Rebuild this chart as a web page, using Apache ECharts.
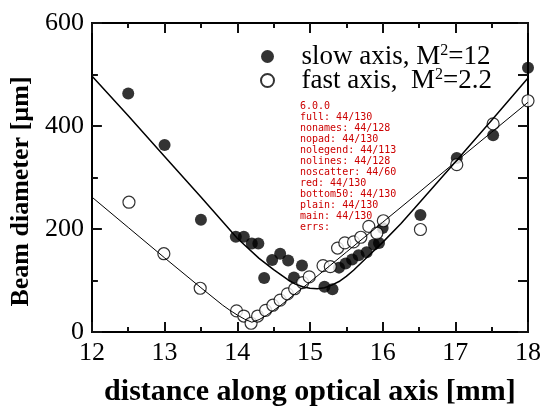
<!DOCTYPE html>
<html>
<head>
<meta charset="utf-8">
<script src="https://cdn.jsdelivr.net/npm/echarts@6/dist/echarts.min.js"></script>
<style>
  html, body { margin: 0; padding: 0; background: #fff; }
  #chart { width: 544px; height: 412px; }
  .off { width: 544px; height: 412px; position: absolute; left: 0; top: 1000px; }
  #dbg { position: absolute; left: 300px; top: 100px; font: 10px monospace; white-space: pre; color: #c00; }
</style>
</head>
<body>
<div id="chart"></div>
<div id="dbg"></div>
<script>
var errs = []
window.onerror = function (m) { errs.push(String(m)) }

var slowX = [12.5, 13.0, 13.5, 13.98, 14.09, 14.2, 14.29, 14.37, 14.48, 14.59, 14.7, 14.78, 14.89, 15.2, 15.31, 15.4, 15.49, 15.58, 15.67, 15.78, 15.88, 15.95, 16.0, 16.52, 17.02, 17.52, 18.0]
var slowY = [463, 363, 218, 185, 185, 172, 172, 105, 140, 152, 139, 106, 129, 88, 83, 125, 133, 141, 149, 155, 170, 173, 202, 227, 338, 382, 513]
var fastX = [12.51, 12.99, 13.49, 13.99, 14.09, 14.19, 14.28, 14.39, 14.49, 14.59, 14.69, 14.79, 14.9, 14.99, 15.18, 15.28, 15.38, 15.48, 15.6, 15.7, 15.81, 15.92, 16.01, 16.52, 17.02, 17.52, 18.0]
var fastY = [252, 152, 85, 41, 31, 17, 31, 42, 52, 62, 74, 84, 96, 107, 129, 127, 163, 173, 175, 184, 205, 192, 216, 199, 325, 404, 449]
var slowFitX = [12, 12.5, 13, 13.5, 14, 14.3, 14.5, 14.7, 14.8, 14.9, 15.0, 15.1, 15.2, 15.3, 15.4, 15.5, 15.6, 15.8, 16, 16.25, 16.5, 17, 17.5, 18]
var slowFitY = [497, 420, 341, 262, 182, 143, 121, 101, 93, 88, 85, 84, 86, 91, 98, 108, 120, 147, 174, 210, 250, 330, 411, 493]
var fastFitX = [12, 12.5, 13, 13.5, 13.8, 13.9, 14, 14.1, 14.2, 14.3, 14.4, 14.5, 14.6, 15, 15.5, 16, 16.5, 17, 17.5, 18]
var fastFitY = [262, 203, 144, 86, 52, 42, 33, 25, 19, 24, 32, 42, 52, 97, 155, 213, 271, 330, 388, 446]
var xTicks = [12, 13, 14, 15, 16, 17, 18]
var yTicks = [0, 200, 400, 600]

function pairs(xs, ys) {
    var out = []
    for (var i = 0; i < xs.length; i++) out.push([xs[i], ys[i]])
    return out
}
var serif = '"Liberation Serif", "Times New Roman", serif'

function frameAxis(position, ticks, step, minorLen, labels, v) {
    return {
        type: 'value', position: position, min: ticks[0], max: ticks[ticks.length - 1], interval: step,
        axisLine: {show: true, onZero: false, lineStyle: {color: '#000', width: 2}},
        axisTick: {show: true, inside: true, length: 10, lineStyle: {color: v.red ? '#f00' : '#111', width: 2}},
        minorTick: {show: true, splitNumber: 2, length: minorLen, lineStyle: {color: v.red ? '#00f' : '#111', width: 2}},
        axisLabel: labels ? (v.plain ? {show: true} : {show: true, fontFamily: serif, fontSize: 26, color: '#000', margin: 8}) : {show: false},
        splitLine: {show: false}, minorSplitLine: {show: false}
    }
}

function build(v) {
    var xBottom = frameAxis('bottom', xTicks, 1, 5, true, v)
    var yLeft = frameAxis('left', yTicks, 200, 6, true, v)
    if (!v.nonames) {
        xBottom.name = 'distance along optical axis [mm]'
        xBottom.nameLocation = 'middle'
        xBottom.nameGap = 45
        xBottom.nameTextStyle = {fontFamily: serif, fontWeight: 'bold', fontSize: 30, color: '#000'}
        yLeft.name = 'Beam diameter [\u00b5m]'
        yLeft.nameLocation = 'middle'
        yLeft.nameGap = 53
        yLeft.nameTextStyle = {fontFamily: serif, fontWeight: 'bold', fontSize: 26, color: '#000'}
        if (!v.nopad) yLeft.nameTextStyle.padding = [0, 28, 0, 0]
    }
    var o = {
        animation: false, backgroundColor: '#fff',
        grid: {left: 90, right: 16, top: 23, bottom: v.bottom || 77},
        xAxis: [xBottom, frameAxis('top', xTicks, 1, 5, false, v)],
        yAxis: [yLeft, frameAxis('right', yTicks, 200, 10, false, v)],
        series: []
    }
    if (!v.nolegend) {
        o.legend = {
            data: ['slow', 'fast'], orient: 'vertical', left: 255, top: 38, itemWidth: 58, itemHeight: 13, itemGap: -3, selectedMode: false,
            formatter: function (name) { return name === 'slow' ? '{t|slow axis, M}{s|2}{t|=12}' : '{t|fast axis,  M}{s|2}{t|=2.2}' },
            textStyle: {color: '#000', fontFamily: serif, fontSize: 27, rich: {
                t: {fontFamily: serif, fontSize: 27, color: '#000', lineHeight: 27},
                s: {fontFamily: serif, fontSize: 16, color: '#000', verticalAlign: 'top', lineHeight: 14}}}
        }
    }
    if (!v.noscatter) {
        o.series.push({name: 'slow', type: 'scatter', clip: false, symbolSize: 12, itemStyle: {color: '#000'}, data: pairs(slowX, slowY), z: 2})
        o.series.push({name: 'fast', type: 'scatter', clip: false, symbolSize: 12, itemStyle: {color: '#fff', borderColor: '#000', borderWidth: 1.2}, data: pairs(fastX, fastY), z: 3})
    }
    if (!v.nolines) {
        o.series.push({name: 'slow fit', type: 'line', showSymbol: false, lineStyle: {color: '#000', width: 1.5}, data: pairs(slowFitX, slowFitY), z: 4})
        o.series.push({name: 'fast fit', type: 'line', showSymbol: false, lineStyle: {color: '#000', width: 1}, data: pairs(fastFitX, fastFitY), z: 4})
    }
    return o
}

function countLines(ch) {
    var list = ch.getZr().storage.getDisplayList(true)
    var n = 0, inv = 0
    list.forEach(function (el) { if (el.type === 'line') { n++; if (el.invisible || el.ignore) inv++ } })
    return n + '/' + list.length
}

var variants = [
    ['full', {}], ['nonames', {nonames: true}], ['nopad', {nopad: true}], ['nolegend', {nolegend: true}],
    ['nolines', {nolines: true}], ['noscatter', {noscatter: true}], ['red', {red: true}], ['bottom50', {bottom: 50}],
    ['plain', {plain: true}]
]
var out = [echarts.version]
variants.forEach(function (pair, i) {
    var d = document.createElement('div')
    d.className = 'off'
    document.body.appendChild(d)
    try {
        var ch = echarts.init(d, null, {renderer: 'canvas'})
        ch.setOption(build(pair[1]))
        out.push(pair[0] + ': ' + countLines(ch))
    } catch (e) { out.push(pair[0] + ' ERR ' + e.message) }
})
var main = echarts.init(document.getElementById('chart'), null, {renderer: 'canvas'})
main.setOption(build({}))
out.push('main: ' + countLines(main))
out.push('errs: ' + errs.join(' | '))
document.getElementById('dbg').textContent = out.join('\n')
</script>
</body>
</html>
